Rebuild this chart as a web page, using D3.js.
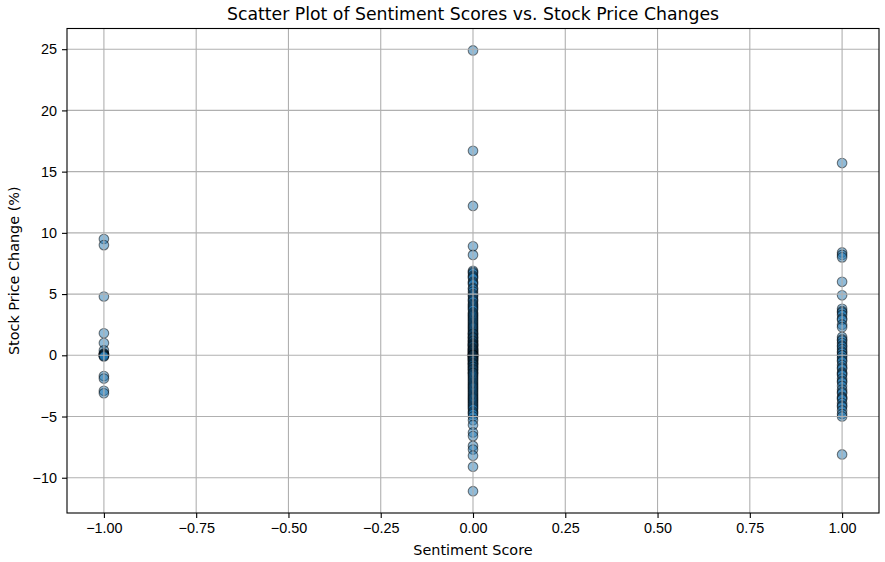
<!DOCTYPE html>
<html>
<head>
<meta charset="utf-8">
<script src="https://cdn.jsdelivr.net/npm/d3@7"></script>
<style>
  body { margin: 0; background: #fff; }
  svg { font-family: "DejaVu Sans", sans-serif; }
  .tick text { font-size: 14.4px; fill: #000; }
  .tick line { stroke: #000; stroke-width: 1.1; }
  .domain { display: none; }
</style>
</head>
<body>
<div id="chart"></div>
<script>
var width = 885
var height = 562
var margin = { top: 28.5, right: 6, bottom: 49, left: 67 };

var title = "Scatter Plot of Sentiment Scores vs. Stock Price Changes";
var xLabel = "Sentiment Score";
var yLabel = "Stock Price Change (%)";

var xTicks = [-1.0, -0.75, -0.5, -0.25, 0, 0.25, 0.5, 0.75, 1.0];
var yTicks = [-10, -5, 0, 5, 10, 15, 20, 25];

// price changes, one list per sentiment score
var negativeChanges = [9.5, 9.0, 4.8, 1.8, 1.0, 0.4, 0.15, 0.1, 0.05, 0.0, 0.0,
    -0.05, -0.1, -1.7, -1.9, -2.9, -3.1];

var neutralChanges = [24.9, 16.7, 12.2, 8.9, 8.2, 6.9, 6.8, 6.7, 6.5, 6.4, 6.3,
    6.0, 5.9, 5.8, 5.5, 5.4, 5.2, 5.0, 4.9, 4.8, 4.6, 4.5, 4.4, 4.2, 4.1, 4.0, 3.9,
    3.8, 3.7, 3.5, 3.4, 3.3, 3.2, 3.1, 3.0, 2.9, 2.8, 2.7, 2.6, 2.5, 2.4, 2.3, 2.2,
    2.1, 2.0, 1.9, 1.8, 1.75, 1.7, 1.6, 1.5, 1.45, 1.4, 1.3, 1.2, 1.15, 1.1, 1.0,
    0.95, 0.9, 0.85, 0.8, 0.75, 0.7, 0.6, 0.55, 0.5, 0.45, 0.4, 0.35, 0.3, 0.25,
    0.2, 0.15, 0.1, 0.05, 0.0, 0.0, 0.0, 0.0, 0.0, -0.05, -0.1, -0.15, -0.2, -0.25,
    -0.3, -0.35, -0.4, -0.45, -0.5, -0.6, -0.65, -0.7, -0.75, -0.8, -0.9, -0.95,
    -1.0, -1.1, -1.15, -1.2, -1.3, -1.4, -1.45, -1.5, -1.6, -1.7, -1.8, -1.9, -2.0,
    -2.1, -2.2, -2.3, -2.4, -2.5, -2.6, -2.7, -2.8, -2.9, -3.0, -3.1, -3.2, -3.3,
    -3.4, -3.5, -3.6, -3.7, -3.8, -3.9, -4.0, -4.1, -4.2, -4.3, -4.4, -4.6, -4.7,
    -4.8, -5.0, -5.3, -5.7, -6.3, -6.6, -7.4, -7.7, -8.2, -9.1, -11.1];

var positiveChanges = [15.7, 8.4, 8.2, 8.0, 6.0, 4.9, 3.8, 3.6, 3.5, 3.3, 3.0, 2.9,
    2.5, 2.3, 1.5, 1.3, 1.2, 1.0, 0.8, 0.7, 0.5, 0.3, 0.2, 0.0, 0.0, -0.2, -0.4,
    -0.5, -0.8, -1.0, -1.1, -1.4, -1.5, -1.6, -1.9, -2.1, -2.2, -2.5, -2.8, -3.0,
    -3.1, -3.4, -3.5, -3.6, -3.9, -4.1, -4.2, -4.5, -4.8, -5.0, -8.1];

var points = []
    .concat(negativeChanges.map(function(v) { return { score: -1, change: v }; }))
    .concat(neutralChanges.map(function(v) { return { score: 0, change: v }; }))
    .concat(positiveChanges.map(function(v) { return { score: 1, change: v }; }));

var svg = d3.select("#chart").append("svg")
    .attr("width", width)
    .attr("height", height);

var xScale = d3.scaleLinear()
    .domain([-1.1, 1.1])
    .range([margin.left, width - margin.right]);

var yScale = d3.scaleLinear()
    .domain([-12.88, 26.69])
    .range([height - margin.bottom, margin.top]);

var fmtX = function(d) { return d3.format(".2f")(d).replace("-", "\u2212"); };
var fmtY = function(d) { return String(d).replace("-", "\u2212"); };

// points first, grid goes on top of them like matplotlib does
svg.append("g")
    .selectAll("circle")
    .data(points)
    .enter().append("circle")
    .attr("cx", function(d) { return xScale(d.score); })
    .attr("cy", function(d) { return yScale(d.change); })
    .attr("r", 4.8)
    .attr("fill", "#1f77b4")
    .attr("fill-opacity", 0.5)
    .attr("stroke", "#000")
    .attr("stroke-opacity", 0.5)
    .attr("stroke-width", 1.1);

var grid = svg.append("g").attr("class", "grid");
grid.selectAll("line.gx")
    .data(xTicks)
    .enter().append("line")
    .attr("x1", function(d) { return xScale(d); })
    .attr("x2", function(d) { return xScale(d); })
    .attr("y1", margin.top)
    .attr("y2", height - margin.bottom)
    .attr("stroke", "#b0b0b0")
    .attr("stroke-width", 1.1);
grid.selectAll("line.gy")
    .data(yTicks)
    .enter().append("line")
    .attr("x1", margin.left)
    .attr("x2", width - margin.right)
    .attr("y1", function(d) { return yScale(d); })
    .attr("y2", function(d) { return yScale(d); })
    .attr("stroke", "#b0b0b0")
    .attr("stroke-width", 1.1);

svg.append("rect")
    .attr("x", margin.left)
    .attr("y", margin.top)
    .attr("width", width - margin.right - margin.left)
    .attr("height", height - margin.bottom - margin.top)
    .attr("fill", "none")
    .attr("stroke", "#000")
    .attr("stroke-width", 1.1);

svg.append("g")
    .attr("transform", "translate(0," + (height - margin.bottom) + ")")
    .call(d3.axisBottom(xScale).tickValues(xTicks).tickFormat(fmtX)
        .tickSizeInner(5).tickSizeOuter(0).tickPadding(5));

svg.append("g")
    .attr("transform", "translate(" + margin.left + ",0)")
    .call(d3.axisLeft(yScale).tickValues(yTicks).tickFormat(fmtY)
        .tickSizeInner(5).tickSizeOuter(0).tickPadding(5));

svg.append("text")
    .attr("x", (margin.left + width - margin.right) / 2)
    .attr("y", 20)
    .attr("text-anchor", "middle")
    .style("font-size", "17.3px")
    .text(title);

svg.append("text")
    .attr("x", (margin.left + width - margin.right) / 2)
    .attr("y", 555)
    .attr("text-anchor", "middle")
    .style("font-size", "14.4px")
    .text(xLabel);

svg.append("text")
    .attr("transform", "translate(19," + ((margin.top + height - margin.bottom) / 2) + ") rotate(-90)")
    .attr("text-anchor", "middle")
    .style("font-size", "14.4px")
    .text(yLabel);
</script>
</body>
</html>
